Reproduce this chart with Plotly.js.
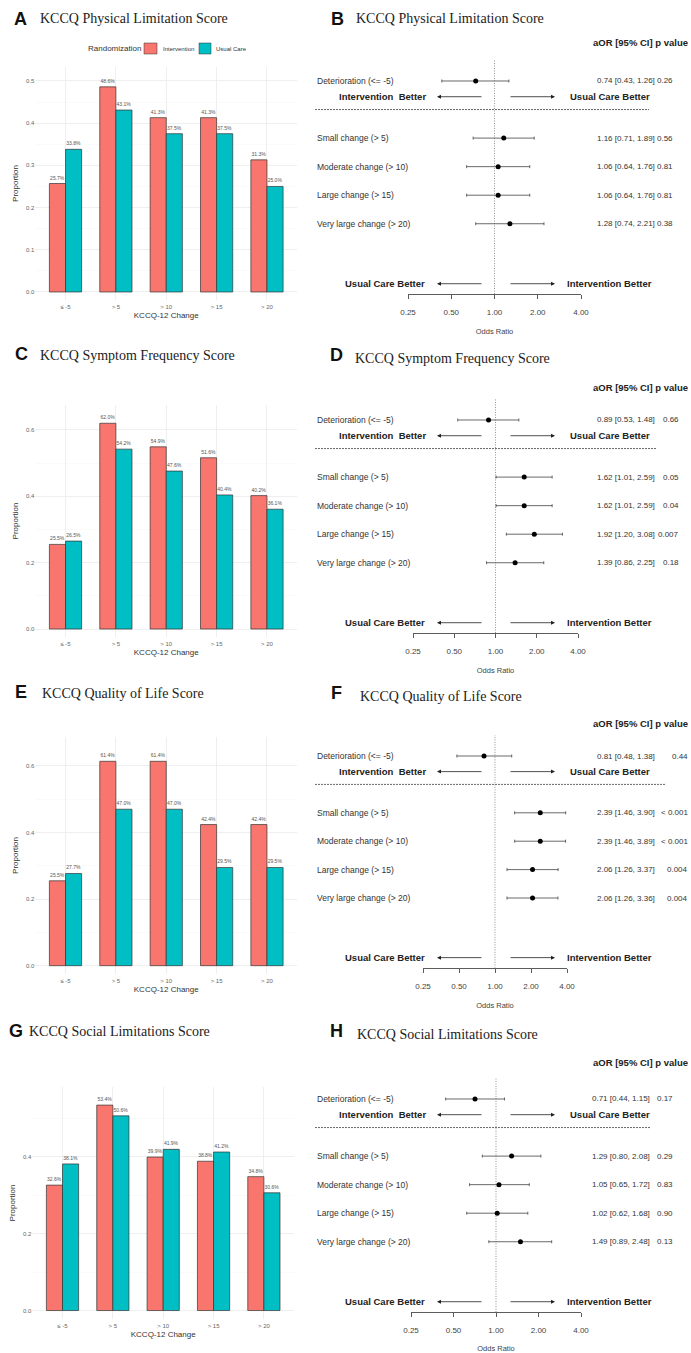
<!DOCTYPE html>
<html>
<head>
<meta charset="utf-8">
<script src="https://cdn.plot.ly/plotly-3.0.1.min.js"></script>
<style>
  html, body { margin: 0; padding: 0; background: #ffffff; }
  #chart { width: 691px; height: 1353px; }
</style>
</head>
<body>
<div id="chart"></div>
<script>
// ---- Proportions achieving each KCCQ-12 change threshold, by arm ----
const categories = ['≤ -5', '> 5', '> 10', '> 15', '> 20'];
const groupNames = ['Intervention', 'Usual Care'];
const groupColors = ['#F8766D', '#00BFC4'];

const physicalIntervention = [0.257, 0.486, 0.413, 0.413, 0.313];
const physicalUsual        = [0.338, 0.431, 0.375, 0.375, 0.250];
const symptomIntervention  = [0.255, 0.620, 0.549, 0.516, 0.402];
const symptomUsual         = [0.265, 0.542, 0.476, 0.404, 0.361];
const qolIntervention      = [0.255, 0.614, 0.614, 0.424, 0.424];
const qolUsual             = [0.277, 0.470, 0.470, 0.295, 0.295];
const socialIntervention   = [0.326, 0.534, 0.399, 0.388, 0.348];
const socialUsual          = [0.381, 0.506, 0.419, 0.412, 0.306];

// ---- Adjusted odds ratios (intervention vs usual care) ----
const outcomeLabels = ['Deterioration (<= -5)', 'Small change (> 5)', 'Moderate change (> 10)',
                       'Large change (> 15)', 'Very large change (> 20)'];
const rowPositions = [7, 5, 4, 3, 2];
const oddsTicks = [0.25, 0.5, 1, 2, 4];
const oddsTickText = ['0.25', '0.50', '1.00', '2.00', '4.00'];

const physicalOR = [0.74, 1.16, 1.06, 1.06, 1.28];
const physicalLo = [0.43, 0.71, 0.64, 0.64, 0.74];
const physicalHi = [1.26, 1.89, 1.76, 1.76, 2.21];
const physicalP  = ['0.26', '0.56', '0.81', '0.81', '0.38'];

const symptomOR = [0.89, 1.62, 1.62, 1.92, 1.39];
const symptomLo = [0.53, 1.01, 1.01, 1.20, 0.86];
const symptomHi = [1.48, 2.59, 2.59, 3.08, 2.25];
const symptomP  = ['0.66', '0.05', '0.04', '0.007', '0.18'];

const qolOR = [0.81, 2.39, 2.39, 2.06, 2.06];
const qolLo = [0.48, 1.46, 1.46, 1.26, 1.26];
const qolHi = [1.38, 3.90, 3.89, 3.37, 3.36];
const qolP  = ['0.44', '< 0.001', '< 0.001', '0.004', '0.004'];

const socialOR = [0.71, 1.29, 1.05, 1.02, 1.49];
const socialLo = [0.44, 0.80, 0.65, 0.62, 0.89];
const socialHi = [1.15, 2.08, 1.72, 1.68, 2.48];
const socialP  = ['0.17', '0.29', '0.83', '0.90', '0.13'];

// ---- Page geometry helpers (pixels -> paper fractions) ----
const W = 691, H = 1353;
const fx = p => p / W;
const fy = p => 1 - p / H;
const SANS = 'Liberation Sans, Arial, Helvetica, sans-serif';
const SERIF = 'Liberation Serif, Times New Roman, serif';

const barPanels = [
  { letter: 'A', title: 'KCCQ Physical Limitation Score', a: physicalIntervention, b: physicalUsual,
    x: [35.3, 297.2], y: [67, 300], range: [-0.019, 0.533], dtick: 0.1, letterAt: [20, 19], titleAt: [38, 19] },
  { letter: 'C', title: 'KCCQ Symptom Frequency Score', a: symptomIntervention, b: symptomUsual,
    x: [35.3, 297.2], y: [405, 637], range: [-0.024, 0.675], dtick: 0.2, letterAt: [22, 354], titleAt: [38, 355] },
  { letter: 'E', title: 'KCCQ Quality of Life Score', a: qolIntervention, b: qolUsual,
    x: [35.3, 297.2], y: [737, 974], range: [-0.025, 0.687], dtick: 0.2, letterAt: [21, 692], titleAt: [40, 693] },
  { letter: 'G', title: 'KCCQ Social Limitations Score', a: socialIntervention, b: socialUsual,
    x: [32.3, 294.1], y: [1087, 1319], range: [-0.022, 0.581], dtick: 0.2, letterAt: [16, 1031], titleAt: [27, 1031] }
];

const forestPanels = [
  { letter: 'B', title: 'KCCQ Physical Limitation Score', or: physicalOR, lo: physicalLo, hi: physicalHi, p: physicalP,
    x: [408, 581], det: 81, step: 28.55, header: 43, letterAt: [337, 19], titleAt: [354, 19], dashEnd: 649, ciX: 595, pRight: 675 },
  { letter: 'D', title: 'KCCQ Symptom Frequency Score', or: symptomOR, lo: symptomLo, hi: symptomHi, p: symptomP,
    x: [413, 578], det: 420, step: 28.55, header: 387, letterAt: [336, 355], titleAt: [353, 358], dashEnd: 657, ciX: 595, pRight: 681 },
  { letter: 'F', title: 'KCCQ Quality of Life Score', or: qolOR, lo: qolLo, hi: qolHi, p: qolP,
    x: [423, 567], det: 756, step: 28.4, header: 723, letterAt: [336, 693], titleAt: [358, 696], dashEnd: 665, ciX: 595, pRight: 690 },
  { letter: 'H', title: 'KCCQ Social Limitations Score', or: socialOR, lo: socialLo, hi: socialHi, p: socialP,
    x: [411, 581], det: 1099, step: 28.55, header: 1062, letterAt: [336, 1031], titleAt: [355, 1034], dashEnd: 650, ciX: 590, pRight: 675 }
];

const traces = [];
const annotations = [];
const shapes = [];
const layout = {
  width: W, height: H,
  margin: { l: 0, r: 0, t: 0, b: 0 },
  paper_bgcolor: '#ffffff', plot_bgcolor: '#ffffff',
  showlegend: false,
  barmode: 'group', bargap: 0.36, bargroupgap: 0,
  font: { family: SANS, color: '#333' },
  annotations: annotations, shapes: shapes
};

function text(x, y, str, opts) {
  annotations.push(Object.assign({
    x: x, y: y, xref: 'paper', yref: 'paper', text: str, showarrow: false,
    xanchor: 'left', yanchor: 'middle',
    font: { family: SANS, size: 8, color: '#333' }
  }, opts || {}));
}

function panelHeading(letterAt, titleAt, letter, title) {
  text(fx(letterAt[0]), fy(letterAt[1]), '<b>' + letter + '</b>',
       { xanchor: 'center', font: { family: SANS, size: 18, color: '#111' } });
  text(fx(titleAt[0]), fy(titleAt[1]), title,
       { font: { family: SERIF, size: 14, color: '#222' } });
}

// ---- Bar charts ----
barPanels.forEach((p, i) => {
  const s = i === 0 ? '' : String(i + 1);
  [p.a, p.b].forEach((vals, g) => {
    traces.push({
      type: 'bar', x: categories, y: vals, name: groupNames[g],
      xaxis: 'x' + s, yaxis: 'y' + s,
      marker: { color: groupColors[g], line: { color: '#333', width: 0.7 } },
      texttemplate: '%{y:.1%}', textposition: 'outside', constraintext: 'none', cliponaxis: false,
      textfont: { family: SANS, size: 5, color: '#555' },
      hoverinfo: 'skip'
    });
  });
  layout['xaxis' + s] = {
    domain: [fx(p.x[0]), fx(p.x[1])], anchor: 'y' + s,
    type: 'category', range: [-0.6, 4.6],
    showgrid: true, gridcolor: '#ebebeb', gridwidth: 0.8,
    zeroline: false, showline: false, ticks: '',
    tickfont: { family: SANS, size: 6, color: '#666' }, ticklabelstandoff: 2,
    title: { text: 'KCCQ-12 Change', font: { family: SANS, size: 8, color: '#333' }, standoff: 3 },
    fixedrange: true
  };
  layout['yaxis' + s] = {
    domain: [fy(p.y[1]), fy(p.y[0])], anchor: 'x' + s,
    range: p.range, tick0: 0, dtick: p.dtick, tickformat: '.1f',
    showgrid: true, gridcolor: '#ebebeb', gridwidth: 0.8,
    minor: { showgrid: true, tick0: 0, dtick: p.dtick / 2, gridcolor: '#f5f5f5', gridwidth: 0.5 },
    zeroline: false, showline: false, ticks: '',
    tickfont: { family: SANS, size: 6, color: '#666' },
    title: { text: 'Proportion', font: { family: SANS, size: 8, color: '#333' }, standoff: 6 },
    fixedrange: true
  };
  panelHeading(p.letterAt, p.titleAt, p.letter, p.title);
});

// Legend for the randomization arms (top of panel A)
text(fx(86), fy(48), 'Randomization', { font: { family: SANS, size: 8, color: '#333' } });
const legendBoxes = [[144, 157], [199, 211]];
const legendText = [161, 214];
groupNames.forEach((name, g) => {
  shapes.push({
    type: 'rect', xref: 'paper', yref: 'paper',
    x0: fx(legendBoxes[g][0]), x1: fx(legendBoxes[g][1]), y0: fy(54), y1: fy(43),
    fillcolor: groupColors[g], line: { color: '#333', width: 0.5 }
  });
  text(fx(legendText[g]), fy(48.5), name, { font: { family: SANS, size: 6, color: '#333' } });
});

// ---- Forest plots ----
forestPanels.forEach((p, j) => {
  const s = String(5 + j);
  const yr = [-0.46, 7.75];
  const bottom = p.det + (7 - yr[0]) * p.step;
  const top = p.det - (yr[1] - 7) * p.step;

  // reference line at OR = 1
  traces.push({
    type: 'scatter', mode: 'lines', x: [1, 1], y: yr,
    xaxis: 'x' + s, yaxis: 'y' + s,
    line: { color: '#777', width: 0.8, dash: '1px,1.5px' }, hoverinfo: 'skip'
  });
  traces.push({
    type: 'scatter', mode: 'markers', x: p.or, y: rowPositions,
    xaxis: 'x' + s, yaxis: 'y' + s,
    marker: { color: '#000', size: 5 },
    error_x: {
      type: 'data', symmetric: false,
      array: p.hi.map((h, k) => h - p.or[k]),
      arrayminus: p.lo.map((l, k) => p.or[k] - l),
      color: '#444', thickness: 0.8, width: 1.5
    },
    hoverinfo: 'skip'
  });

  layout['xaxis' + s] = {
    domain: [fx(p.x[0]), fx(p.x[1])], anchor: 'y' + s,
    type: 'log', range: [Math.log10(0.25), Math.log10(4)],
    tickmode: 'array', tickvals: oddsTicks, ticktext: oddsTickText,
    ticks: 'outside', ticklen: 4, tickwidth: 0.8, tickcolor: '#333',
    showline: true, linecolor: '#333', linewidth: 0.8,
    showgrid: false, zeroline: false,
    tickfont: { family: SANS, size: 8, color: '#444' }, ticklabelstandoff: 7,
    title: { text: 'Odds Ratio', font: { family: SANS, size: 7.5, color: '#444' }, standoff: 12 },
    fixedrange: true
  };
  layout['yaxis' + s] = {
    domain: [fy(bottom), fy(top)], anchor: 'x' + s,
    range: yr, visible: false, showgrid: false, zeroline: false, fixedrange: true
  };

  panelHeading(p.letterAt, p.titleAt, p.letter, p.title);
  text(fx(690), fy(p.header), '<b>aOR [95% CI] p value</b>',
       { xanchor: 'right', font: { family: SANS, size: 9.5, color: '#222' } });

  const yref = 'y' + s;
  outcomeLabels.forEach((lab, k) => {
    const y = rowPositions[k];
    text(fx(315), y, lab, { yref: yref, font: { family: SANS, size: 8.5, color: '#333' } });
    const ci = p.or[k].toFixed(2) + ' [' + p.lo[k].toFixed(2) + ', ' + p.hi[k].toFixed(2) + ']';
    text(fx(p.ciX), y, ci, { yref: yref, font: { family: SANS, size: 8, color: '#333' } });
    text(fx(p.pRight), y, p.p[k], { yref: yref, xanchor: 'right', font: { family: SANS, size: 8, color: '#333' } });
  });

  // separator between deterioration and improvement rows
  shapes.push({
    type: 'line', xref: 'paper', yref: yref,
    x0: fx(315), x1: fx(p.dashEnd), y0: 6, y1: 6,
    line: { color: '#666', width: 1, dash: '2px,1px' }
  });

  // direction labels and arrows
  const bold = { family: SANS, size: 9.5, color: '#222' };
  text(fx(428), 6.45, '<b>Intervention\u00a0\u00a0Better</b>', { yref: yref, xanchor: 'right', font: bold });
  text(fx(568), 6.45, '<b>Usual Care Better</b>', { yref: yref, font: bold });
  text(fx(343), -0.1, '<b>Usual Care Better</b>', { yref: yref, font: bold });
  text(fx(565), -0.1, '<b>Intervention Better</b>', { yref: yref, font: bold });
  [6.45, -0.1].forEach(yy => {
    [[437, 46], [555, -46]].forEach(([head, off]) => {
      annotations.push({
        x: fx(head), y: yy, xref: 'paper', yref: yref, text: '',
        showarrow: true, ax: off, ay: 0, axref: 'pixel', ayref: 'pixel',
        arrowhead: 2, arrowsize: 1, arrowwidth: 0.8, arrowcolor: '#222'
      });
    });
  });
});

Plotly.newPlot('chart', traces, layout, { staticPlot: true, displayModeBar: false });
</script>
</body>
</html>
